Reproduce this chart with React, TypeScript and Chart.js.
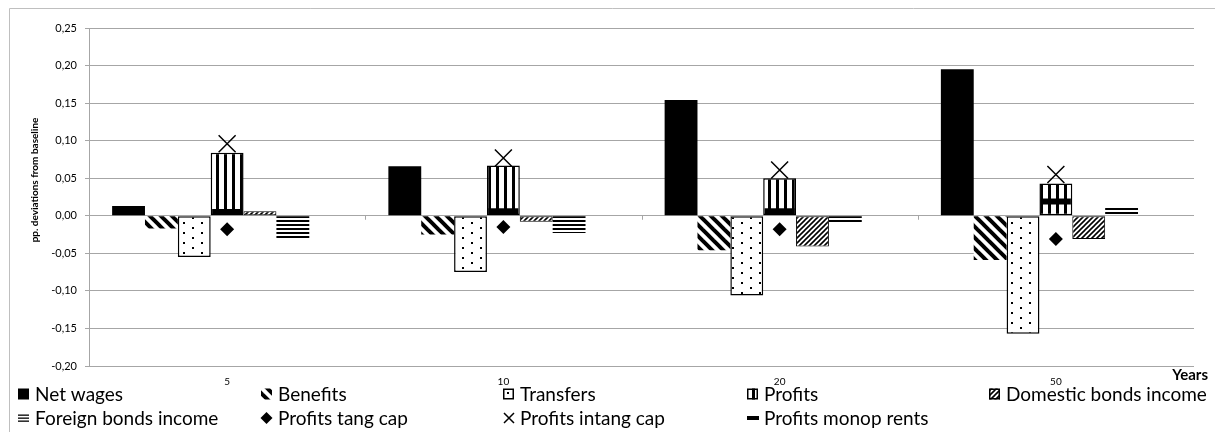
import React, { useEffect, useRef } from 'react';
import { Chart, registerables } from 'chart.js';

Chart.register(...registerables);

const categories = ['5', '10', '20', '50'];
const netWages = [0.013, 0.066, 0.154, 0.195];
const benefits = [-0.017, -0.025, -0.046, -0.059];
const transfers = [-0.055, -0.075, -0.106, -0.157];
const profits = [0.084, 0.067, 0.05, 0.043];
const domesticBonds = [0.006, -0.008, -0.041, -0.031];
const foreignBonds = [-0.031, -0.023, -0.009, 0.012];
const profitsTangCap = [-0.018, -0.015, -0.018, -0.031];
const profitsIntangCap = [0.096, 0.077, 0.061, 0.055];
const profitsMonopRents = [0.005, 0.006, 0.006, 0.019];
const yMin = -0.2;
const yMax = 0.25;
const yStep = 0.05;
const yTitle = 'pp. deviations from baseline';
const xTitle = 'Years';
const legendLabels = [
  'Net wages',
  'Benefits',
  'Transfers',
  'Profits',
  'Domestic bonds income',
  'Foreign bonds income',
  'Profits tang cap',
  'Profits intang cap',
  'Profits monop rents',
];

const FONT = 'Lato, "Open Sans", sans-serif';

function tile(w: number, h: number, draw: (g: CanvasRenderingContext2D) => void) {
  const c = document.createElement('canvas');
  c.width = w;
  c.height = h;
  const g = c.getContext('2d')!;
  g.fillStyle = '#fff';
  g.fillRect(0, 0, w, h);
  g.fillStyle = '#000';
  g.strokeStyle = '#000';
  draw(g);
  return c;
}

function makePatterns(ctx: CanvasRenderingContext2D) {
  const s1 = 11;
  const back = tile(s1, s1, (g) => {
    g.lineWidth = 4;
    for (const c of [-s1, 0, s1]) {
      g.beginPath();
      g.moveTo(c - s1, -s1);
      g.lineTo(c + 2 * s1, 2 * s1);
      g.stroke();
    }
  });
  const s2 = 5;
  const fwd = tile(s2, s2, (g) => {
    g.lineWidth = 1.6;
    for (const c of [0, s2, 2 * s2]) {
      g.beginPath();
      g.moveTo(c + s2, -s2);
      g.lineTo(c - 2 * s2, 2 * s2);
      g.stroke();
    }
  });
  const dots = tile(18, 10, (g) => {
    g.fillRect(3, 2, 2, 2);
    g.fillRect(12, 7, 2, 2);
  });
  const vert = tile(8, 1, (g) => {
    g.fillRect(0, 0, 3, 1);
  });
  const horiz = tile(1, 4, (g) => {
    g.fillRect(0, 0, 1, 2);
  });
  return {
    benefits: ctx.createPattern(back, 'repeat')!,
    domestic: ctx.createPattern(fwd, 'repeat')!,
    transfers: ctx.createPattern(dots, 'repeat')!,
    profits: ctx.createPattern(vert, 'repeat')!,
    foreign: ctx.createPattern(horiz, 'repeat')!,
  };
}

export default function App() {
  const ref = useRef<HTMLCanvasElement | null>(null);

  useEffect(() => {
    document.body.style.margin = '0';
    const canvas = ref.current!;
    const ctx = canvas.getContext('2d')!;
    const p = makePatterns(ctx);

    const decor = {
      id: 'decor',
      afterDraw(chart: any) {
        const c = chart.ctx as CanvasRenderingContext2D;
        const area = chart.chartArea;
        const y = chart.scales.y;
        const y0 = y.getPixelForValue(0);
        c.save();
        // outer border
        c.strokeStyle = '#bfbfbf';
        c.lineWidth = 1;
        c.beginPath();
        c.moveTo(9.5, 432);
        c.lineTo(9.5, 8.5);
        c.lineTo(1215, 8.5);
        c.stroke();
        // category tick marks on zero line
        c.strokeStyle = '#a6a6a6';
        const w = (area.right - area.left) / categories.length;
        for (let i = 1; i < categories.length; i++) {
          const x = Math.round(area.left + i * w) + 0.5;
          c.beginPath();
          c.moveTo(x, y0);
          c.lineTo(x, y0 + 4);
          c.stroke();
        }
        // y title
        c.fillStyle = '#000';
        c.font = `bold 10px ${FONT}`;
        c.textAlign = 'center';
        c.textBaseline = 'middle';
        c.translate(35, 180);
        c.rotate(-Math.PI / 2);
        c.fillText(yTitle, 0, 0);
        c.restore();

        c.save();
        c.fillStyle = '#000';
        c.font = `bold 15px ${FONT}`;
        c.textAlign = 'right';
        c.textBaseline = 'middle';
        c.fillText(xTitle, 1208, 375);

        // legend
        const cols = [18, 261, 503, 747, 989];
        const rows = [394, 418];
        c.font = `19px ${FONT}`;
        c.textAlign = 'left';
        c.textBaseline = 'middle';
        legendLabels.forEach((label, i) => {
          const col = i % 5;
          const row = Math.floor(i / 5);
          const ix = cols[col];
          const iy = rows[row];
          const sz = 11;
          const top = iy - sz / 2;
          c.save();
          c.lineWidth = 1;
          if (i === 0) {
            c.fillStyle = '#000';
            c.fillRect(ix, top, sz, sz);
          } else if (i === 1) {
            c.fillStyle = p.benefits;
            c.fillRect(ix, top, sz, sz);
          } else if (i === 2 || i === 3 || i === 4) {
            c.fillStyle = i === 2 ? p.transfers : i === 3 ? p.profits : p.domestic;
            c.fillRect(ix, top, sz, sz);
            c.strokeStyle = '#000';
            c.lineWidth = 1.5;
            c.strokeRect(ix + 0.75, top + 0.75, sz - 1.5, sz - 1.5);
          } else if (i === 5) {
            c.fillStyle = '#000';
            for (let k = 0; k < 3; k++) c.fillRect(ix, top + 2 + k * 3, sz, 1.3);
          } else if (i === 6) {
            c.fillStyle = '#000';
            c.beginPath();
            c.moveTo(ix + sz / 2, iy - 6);
            c.lineTo(ix + sz / 2 + 6, iy);
            c.lineTo(ix + sz / 2, iy + 6);
            c.lineTo(ix + sz / 2 - 6, iy);
            c.closePath();
            c.fill();
          } else if (i === 7) {
            c.strokeStyle = '#000';
            c.lineWidth = 1.5;
            c.beginPath();
            c.moveTo(ix + 1, iy - 5);
            c.lineTo(ix + 11, iy + 5);
            c.moveTo(ix + 11, iy - 5);
            c.lineTo(ix + 1, iy + 5);
            c.stroke();
          } else {
            c.fillStyle = '#000';
            c.fillRect(ix, iy - 2, 12, 4);
          }
          c.restore();
          c.fillStyle = '#000';
          c.fillText(label, ix + 17, iy + 1);
        });
        c.restore();
      },
    };

    const barBase = { order: 1, borderSkipped: false as const };
    const chart = new Chart(canvas, {
      type: 'bar',
      data: {
        labels: categories,
        datasets: [
          { ...barBase, label: legendLabels[0], data: netWages, backgroundColor: '#000', borderWidth: 0 },
          { ...barBase, label: legendLabels[1], data: benefits, backgroundColor: p.benefits, borderWidth: 0 },
          { ...barBase, label: legendLabels[2], data: transfers, backgroundColor: p.transfers, borderColor: '#000', borderWidth: 1.5 },
          { ...barBase, label: legendLabels[3], data: profits, backgroundColor: p.profits, borderColor: '#000', borderWidth: 1.5 },
          { ...barBase, label: legendLabels[4], data: domesticBonds, backgroundColor: p.domestic, borderColor: '#000', borderWidth: 1 },
          { ...barBase, label: legendLabels[5], data: foreignBonds, backgroundColor: p.foreign, borderWidth: 0 },
          { ...barBase, label: '', data: categories.map(() => null), backgroundColor: 'transparent', borderWidth: 0 },
          {
            type: 'line', order: 0, label: legendLabels[6], data: profitsTangCap, showLine: false,
            pointStyle: 'rectRot', pointRadius: 7, pointBackgroundColor: '#000', pointBorderColor: '#000', pointBorderWidth: 0,
          } as any,
          {
            type: 'line', order: 0, label: legendLabels[7], data: profitsIntangCap, showLine: false,
            pointStyle: 'crossRot', pointRadius: 12, pointBorderColor: '#000', pointBorderWidth: 1.5,
          } as any,
          {
            type: 'line', order: 0, label: legendLabels[8], data: profitsMonopRents, showLine: false,
            pointStyle: 'line', pointRadius: 15, pointBorderColor: '#000', pointBorderWidth: 6,
          } as any,
        ],
      },
      options: {
        responsive: false,
        animation: false,
        layout: { padding: { left: 0, top: 28, right: 5, bottom: 0 } },
        plugins: { legend: { display: false }, tooltip: { enabled: false } },
        datasets: { bar: { categoryPercentage: 0.8326, barPercentage: 1 } },
        scales: {
          x: {
            offset: true,
            grid: { display: false, drawTicks: false },
            border: { display: false },
            ticks: { color: '#000', font: { family: FONT, size: 10 }, padding: 10 },
            afterFit: (s: any) => { s.height = 66; },
          },
          y: {
            min: yMin,
            max: yMax,
            ticks: {
              stepSize: yStep,
              color: '#000',
              font: { family: FONT, size: 11 },
              padding: 8,
              callback: (v: any) => Number(v).toFixed(2).replace('.', ','),
            },
            grid: { color: '#a6a6a6', lineWidth: 1, tickLength: 4 },
            border: { color: '#a6a6a6' },
            afterFit: (s: any) => { s.width = 89; },
          },
        },
      },
      plugins: [decor],
    } as any);
    return () => chart.destroy();
  }, []);

  return (
    <div style={{ width: 1215, height: 432, background: '#fff' }}>
      <canvas ref={ref} width={1215} height={432} style={{ display: 'block' }} />
    </div>
  );
}
